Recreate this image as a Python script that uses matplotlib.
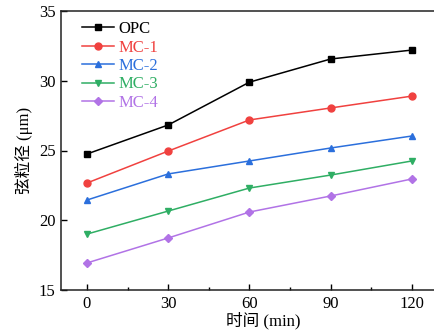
import matplotlib
matplotlib.use("Agg")
import matplotlib.pyplot as plt
from matplotlib.ticker import MultipleLocator

plt.rcParams['font.family'] = ['Liberation Serif', 'Noto Sans CJK SC']
plt.rcParams['mathtext.fontset'] = 'stix'

time_min = [0, 30, 60, 90, 120]
opc = [24.75, 26.83, 29.9, 31.56, 32.2]
mc1 = [22.67, 24.96, 27.19, 28.05, 28.9]
mc2 = [21.45, 23.32, 24.25, 25.18, 26.04]
mc3 = [19.01, 20.66, 22.31, 23.24, 24.25]
mc4 = [16.94, 18.73, 20.59, 21.74, 22.96]

series = [
    ("OPC", opc, "#000000", "s"),
    ("MC-1", mc1, "#f0413f", "o"),
    ("MC-2", mc2, "#2b6fdc", "^"),
    ("MC-3", mc3, "#2fae64", "v"),
    ("MC-4", mc4, "#b173e6", "D"),
]

fig = plt.figure(figsize=(4.35, 3.33), dpi=100)
ax = fig.add_axes([61/435, 1 - 290/333, (465 - 61)/435, (290 - 11)/333])

for name, vals, color, mk in series:
    ax.plot(time_min, vals, color=color, marker=mk, markersize=5 if mk != "D" else 4.5,
            linewidth=1.1, label=name)

ax.set_xlim(-9.6, 139.6)
ax.set_ylim(15, 35)
ax.set_xticks(time_min)
ax.xaxis.set_minor_locator(MultipleLocator(15))
ax.set_yticks([15, 20, 25, 30, 35])
ax.tick_params(axis='both', which='major', direction='in', length=4, width=1,
               labelsize=12, pad=4)
ax.tick_params(axis='x', which='minor', direction='in', length=2.5, width=1)
for s in ax.spines.values():
    s.set_linewidth(1.1)
    s.set_color("#222222")

ax.set_xlabel("时间 (min)", fontsize=12, labelpad=0)
ax.set_ylabel("弦粒径 (μm)", fontsize=12, labelpad=4)

leg = ax.legend(loc='upper left', bbox_to_anchor=(21/404, 1 - 10/279), frameon=False,
                fontsize=12, handlelength=1.9, handletextpad=0.3,
                labelspacing=0.15, borderaxespad=0.0, borderpad=0.0)
for text, (_, _, color, _) in zip(leg.get_texts(), series):
    text.set_color(color)

fig.savefig("out.png", dpi=100)
